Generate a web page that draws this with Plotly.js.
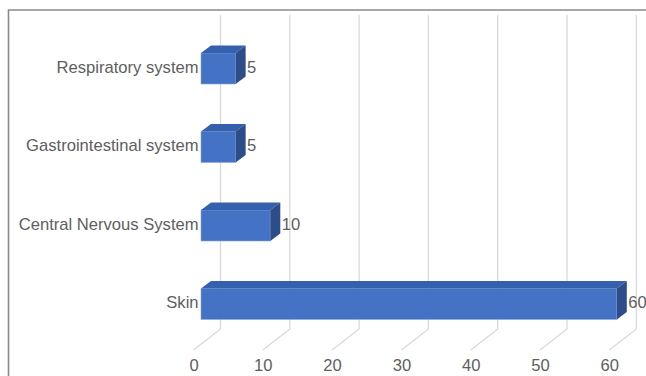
<!DOCTYPE html>
<html>
<head>
<meta charset="utf-8">
<script src="https://cdn.plot.ly/plotly-3.0.1.min.js"></script>
<style>
  html, body { margin: 0; padding: 0; background: #ffffff; }
  #chart { width: 646px; height: 376px; }
</style>
</head>
<body>
<div id="chart"></div>
<script>
// Case counts by affected system (bottom to top)
const categories = ['Skin', 'Central Nervous System', 'Gastrointestinal system', 'Respiratory system'];
const counts = [60, 10, 5, 5];
const xTicks = [0, 10, 20, 30, 40, 50, 60];
const xTickLabels = ['0', '10', '20', '30', '40', '50', '60'];

// Plot geometry (data units) for the pseudo-3D look
const PX_PER_X = 6.93;           // horizontal pixels per unit
const PX_PER_Y = 78.5;           // vertical pixels per category step
const barHalf = 0.198;           // half bar thickness (category units)
const depthX = 10 / PX_PER_X;    // bar depth, horizontal
const depthY = 7.5 / PX_PER_Y;   // bar depth, vertical
const wallX = 19.5 / PX_PER_X;   // back wall offset for gridlines
const gridTop = (304 - 15) / PX_PER_Y;
const gridFloor = (304 - 329) / PX_PER_Y;
const floorFront = (304 - 350) / PX_PER_Y;
const floorFrontX = (193 - 220) / PX_PER_X;
const tickLabelY = (304 - 367) / PX_PER_Y;
const tickLabelDX = -7 / PX_PER_X;

const FRONT = '#4472C4', TOP = '#3560AD', SIDE = '#2C4D8A', GRID = '#D9D9D9';
const TEXT = '#5E5E5E';
const FONT = 'Liberation Sans, Arial, sans-serif';
const FS = 16.6;

const catPos = categories.map((_, i) => i);
const traces = [];

// Front faces of the bars
traces.push({
  type: 'bar', orientation: 'h',
  x: counts, y: catPos, width: barHalf * 2,
  marker: { color: FRONT, line: { color: '#8FAADC', width: 0.6 } },
  showlegend: false, hoverinfo: 'skip'
});

// Top and side faces
counts.forEach((v, i) => {
  const c = catPos[i];
  const top = c + barHalf, bot = c - barHalf;
  traces.push({
    type: 'scatter', mode: 'lines', fill: 'toself', fillcolor: TOP,
    line: { width: 0, color: TOP }, hoverinfo: 'skip', showlegend: false,
    x: [0, v, v + depthX, depthX, 0],
    y: [top, top, top + depthY, top + depthY, top]
  });
  traces.push({
    type: 'scatter', mode: 'lines', fill: 'toself', fillcolor: SIDE,
    line: { width: 0, color: SIDE }, hoverinfo: 'skip', showlegend: false,
    x: [v, v + depthX, v + depthX, v, v],
    y: [bot, bot + depthY, top + depthY, top, bot]
  });
});

// Value labels just past each bar
traces.push({
  type: 'scatter', mode: 'text', hoverinfo: 'skip', showlegend: false,
  x: counts.map(v => v + depthX + 0.2), y: catPos,
  text: counts.map(String), textposition: 'middle right',
  textfont: { family: FONT, size: FS, color: TEXT }, cliponaxis: false
});

// Category labels to the left of the bars
traces.push({
  type: 'scatter', mode: 'text', hoverinfo: 'skip', showlegend: false,
  x: catPos.map(() => -0.35), y: catPos,
  text: categories, textposition: 'middle left',
  textfont: { family: FONT, size: FS, color: TEXT }, cliponaxis: false
});

// Value axis labels along the floor
traces.push({
  type: 'scatter', mode: 'text', hoverinfo: 'skip', showlegend: false,
  x: xTicks.map(t => t + tickLabelDX), y: xTicks.map(() => tickLabelY),
  text: xTickLabels, textposition: 'middle center',
  textfont: { family: FONT, size: FS, color: TEXT }, cliponaxis: false
});

// Gridlines on the back wall, each running down onto the floor (behind the bars)
const gridShapes = xTicks.map(t => ({
  type: 'path', xref: 'x', yref: 'y', layer: 'below',
  path: `M ${t + wallX} ${gridTop} L ${t + wallX} ${gridFloor} L ${t + wallX + floorFrontX} ${floorFront}`,
  line: { color: GRID, width: 1.3 }
}));

const W = 646, H = 376;
const layout = {
  width: W, height: H,
  margin: { l: 0, r: 0, t: 0, b: 0 },
  paper_bgcolor: '#ffffff', plot_bgcolor: 'rgba(0,0,0,0)',
  barmode: 'overlay',
  xaxis: {
    range: [-201 / PX_PER_X, (W - 201) / PX_PER_X],
    showgrid: false, zeroline: false, showticklabels: false, showline: false, fixedrange: true
  },
  yaxis: {
    range: [(304 - H) / PX_PER_Y, 304 / PX_PER_Y],
    showgrid: false, zeroline: false, showticklabels: false, showline: false, fixedrange: true
  },
  shapes: gridShapes.concat([
    {
      type: 'path', xref: 'paper', yref: 'paper', layer: 'above',
      path: `M ${8.5 / W} -0.05 L ${8.5 / W} ${1 - 10 / H} L 1.05 ${1 - 10 / H}`,
      line: { color: '#8A8A8A', width: 1.6 }
    }
  ]),
  showlegend: false
};

Plotly.newPlot('chart', traces, layout, { displayModeBar: false, staticPlot: true });
</script>
</body>
</html>
